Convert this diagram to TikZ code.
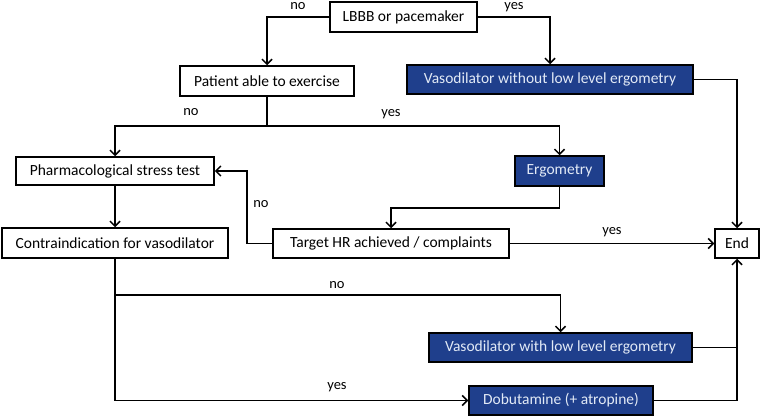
\documentclass[tikz,border=0pt]{standalone}
\usepackage{fontspec}
\setmainfont{Carlito}
\usetikzlibrary{arrows.meta}
\definecolor{boxblue}{HTML}{1F3F8C}
\definecolor{boxtext}{HTML}{E2EAF6}
\tikzset{
  wbox/.style={draw=black, line width=1.5pt, fill=white, inner sep=0pt, font=\fontsize{15.5}{18}\selectfont, text=black},
  bbox/.style={draw=black, line width=1.5pt, fill=boxblue, inner sep=0pt, font=\fontsize{15.5}{18}\selectfont, text=boxtext},
  conn/.style={line width=1.5pt, draw=black},
  arr/.style={conn, -{Straight Barb[length=5pt,width=10pt,line width=1.5pt]}},
  lbl/.style={font=\fontsize{14.5}{16}\selectfont, inner sep=0pt}
}
\begin{document}
\begin{tikzpicture}[x=1pt,y=-1pt]
\useasboundingbox (0,0) rectangle (761,417);
\node[wbox, minimum width=147pt, minimum height=30pt] (lbbb) at (403.5,17) {LBBB or pacemaker};
\node[wbox, minimum width=174pt, minimum height=30pt] (pat) at (267,81) {Patient able to exercise};
\node[bbox, minimum width=286pt, minimum height=29pt] (vwo) at (550,79.5) {Vasodilator without low level ergometry};
\node[wbox, minimum width=198pt, minimum height=28pt] (pharm) at (115,171) {Pharmacological stress test};
\node[wbox, minimum width=226pt, minimum height=30pt] (contra) at (115,243) {Contraindication for vasodilator};
\node[bbox, minimum width=89pt, minimum height=30pt] (ergo) at (559.5,171) {Ergometry};
\node[wbox, minimum width=236pt, minimum height=29pt] (target) at (391,243.5) {Target HR achieved / complaints};
\node[wbox, minimum width=44pt, minimum height=29pt] (end) at (737,243.5) {End};
\node[bbox, minimum width=263pt, minimum height=29pt] (vw) at (560.5,347.5) {Vasodilator with low level ergometry};
\node[bbox, minimum width=184pt, minimum height=29pt] (dobu) at (561,400.5) {Dobutamine (+ atropine)};

\coordinate (j1) at (267,126);
\coordinate (j2) at (559.5,208);
\coordinate (j3) at (247,243.5);
\coordinate (j4) at (115,295);
\coordinate (j5) at (737,347.5);

\draw[arr] (lbbb.west) -| (pat.north);
\draw[arr] (lbbb.east) -| (vwo.north);
\draw[conn] (pat.south) -- (j1);
\draw[arr] (j1) -| (pharm.north);
\draw[arr] (j1) -| (ergo.north);
\draw[arr] (pharm.south) -- (contra.north);
\draw[conn] (ergo.south) -- (j2);
\draw[arr] (j2) -| (target.north);
\draw[arr] (target.west) -- (j3) |- (pharm.east);
\draw[arr] (target.east) -- (end.west);
\draw[arr] (vwo.east) -| (end.north);
\draw[arr] (contra.south) |- (dobu.west);
\draw[arr] (j4) -| (vw.north);
\draw[conn] (vw.east) -- (j5);
\draw[arr] (dobu.east) -| (end.south);

\node[lbl] (l1) at (298,6) {no};
\node[lbl] (l2) at (514,7) {yes};
\node[lbl] (l3) at (191,112) {no};
\node[lbl] (l4) at (391,114) {yes};
\node[lbl] (l5) at (261,204) {no};
\node[lbl] (l6) at (612,232) {yes};
\node[lbl] (l7) at (337,285) {no};
\node[lbl] (l8) at (337,387) {yes};
\end{tikzpicture}
\end{document}
